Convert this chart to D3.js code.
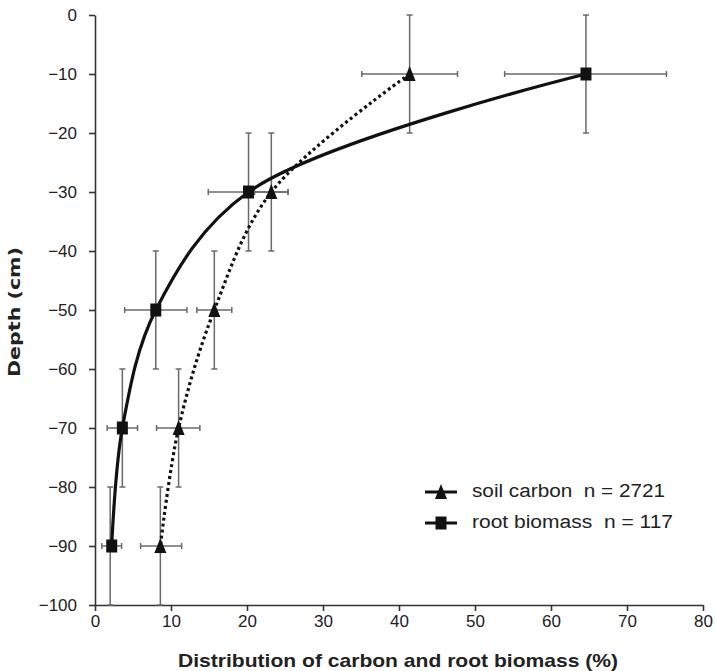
<!DOCTYPE html>
<html><head><meta charset="utf-8">
<script src="https://cdn.jsdelivr.net/npm/d3@7"></script>
<style>body{margin:0;background:#fff}svg{display:block}</style>
</head><body>
<script>
const depths = [-10, -30, -50, -70, -90];
const depthErrLow = [0, -20, -40, -60, -80];
const depthErrHigh = [-20, -40, -60, -80, -100];
const rootValues = [64.6, 20.2, 8.0, 3.6, 2.2];
const rootErrLeft = [53.9, 14.9, 3.9, 1.6, 0.9];
const rootErrRight = [75.2, 25.4, 12.1, 5.6, 3.5];
const rootVErrX = [64.6, 20.2, 8.0, 3.6, 2.0];
const carbonValues = [41.4, 23.2, 15.7, 11.0, 8.6];
const carbonErrLeft = [35.1, 21.0, 13.4, 8.1, 6.0];
const carbonErrRight = [47.7, 25.4, 18.0, 13.8, 11.4];
const xTicks = [0, 10, 20, 30, 40, 50, 60, 70, 80];
const yTicks = [0, -10, -20, -30, -40, -50, -60, -70, -80, -90, -100];
const legendLabels = ["soil carbon  n = 2721", "root biomass  n = 117"];

const W = 715, H = 671;
const svg = d3.select("body").append("svg").attr("width", W).attr("height", H);
const x = d3.scaleLinear().domain([0, 80]).range([95, 703]);
const y = d3.scaleLinear().domain([-100, 0]).range([605, 15]);
const FONT = "'Liberation Sans', Arial, sans-serif";
const AX = "#333";

// axes
const xAxis = svg.append("g").attr("transform", `translate(0,${y(-100)})`)
  .call(d3.axisBottom(x).tickValues(xTicks).tickSize(6).tickPadding(4).tickSizeOuter(0));
const yAxis = svg.append("g").attr("transform", `translate(${x(0)},0)`)
  .call(d3.axisLeft(y).tickValues(yTicks).tickSize(6).tickPadding(12).tickSizeOuter(0)
    .tickFormat(d => d < 0 ? "\u2212" + Math.abs(d) : String(d)));
[xAxis, yAxis].forEach(g => {
  g.select(".domain").attr("stroke", AX).attr("stroke-width", 1.6);
  g.selectAll(".tick line").attr("stroke", AX).attr("stroke-width", 1.6);
  g.selectAll(".tick text").attr("fill", "#222").style("font-family", FONT).style("font-size", "17px");
});

// error bars
const eb = svg.append("g").attr("stroke", "#6a6a6a").attr("stroke-width", 1.5).attr("fill", "none");
const cap = 3;
function errBars(vals, left, right, vx) {
  vals.forEach((v, i) => {
    const cy = y(depths[i]);
    eb.append("line").attr("x1", x(left[i])).attr("x2", x(right[i])).attr("y1", cy).attr("y2", cy);
    eb.append("line").attr("x1", x(left[i])).attr("x2", x(left[i])).attr("y1", cy - cap).attr("y2", cy + cap);
    eb.append("line").attr("x1", x(right[i])).attr("x2", x(right[i])).attr("y1", cy - cap).attr("y2", cy + cap);
    const cx = x(vx[i]);
    eb.append("line").attr("x1", cx).attr("x2", cx).attr("y1", y(depthErrLow[i])).attr("y2", y(depthErrHigh[i]));
    eb.append("line").attr("x1", cx - cap).attr("x2", cx + cap).attr("y1", y(depthErrLow[i])).attr("y2", y(depthErrLow[i]));
    eb.append("line").attr("x1", cx - cap).attr("x2", cx + cap).attr("y1", y(depthErrHigh[i])).attr("y2", y(depthErrHigh[i]));
  });
}
errBars(carbonValues, carbonErrLeft, carbonErrRight, carbonValues);
errBars(rootValues, rootErrLeft, rootErrRight, rootVErrX);

// curves
const line = d3.line().x(d => x(d[0])).y(d => y(d[1])).curve(d3.curveCatmullRom.alpha(0.5));
const rootPts = rootValues.map((v, i) => [v, depths[i]]);
const carbonPts = carbonValues.map((v, i) => [v, depths[i]]);
svg.append("path").attr("d", line(carbonPts)).attr("fill", "none").attr("stroke", "#111")
  .attr("stroke-width", 3.2).attr("stroke-dasharray", "3,3");
svg.append("path").attr("d", line(rootPts)).attr("fill", "none").attr("stroke", "#111")
  .attr("stroke-width", 3.2);

// markers
const tri = (cx, cy) => `M${cx},${cy - 8}L${cx + 6},${cy + 7}L${cx - 6},${cy + 7}Z`;
svg.append("g").selectAll("path").data(carbonPts).join("path")
  .attr("d", d => tri(x(d[0]), y(d[1]))).attr("fill", "#111");
svg.append("g").selectAll("rect").data(rootPts).join("rect")
  .attr("x", d => x(d[0]) - 5.5).attr("y", d => y(d[1]) - 6.5).attr("width", 11).attr("height", 13).attr("fill", "#111");

// legend
const lg = svg.append("g");
const rows = [492, 523];
const widths = [193, 201];
legendLabels.forEach((t, i) => {
  const cy = rows[i];
  lg.append("line").attr("x1", 425).attr("x2", 457).attr("y1", cy).attr("y2", cy).attr("stroke", "#111").attr("stroke-width", 3);
  if (i === 0) lg.append("path").attr("d", tri(441, cy)).attr("fill", "#111");
  else lg.append("rect").attr("x", 441 - 5.5).attr("y", cy - 6.5).attr("width", 11).attr("height", 13).attr("fill", "#111");
  lg.append("text").attr("x", 472).attr("y", cy + 5).attr("xml:space", "preserve").style("white-space", "pre")
    .attr("textLength", widths[i]).attr("lengthAdjust", "spacingAndGlyphs")
    .style("font-family", FONT).style("font-size", "18px").attr("fill", "#222").text(t);
});

// titles
svg.append("text").attr("x", 398).attr("y", 667).attr("text-anchor", "middle")
  .attr("textLength", 440).attr("lengthAdjust", "spacingAndGlyphs")
  .style("font-family", FONT).style("font-weight", "bold").style("font-size", "19px").attr("fill", "#222")
  .text("Distribution of carbon and root biomass (%)");
svg.append("text").attr("transform", "translate(20,312) rotate(-90)").attr("text-anchor", "middle")
  .attr("textLength", 130).attr("lengthAdjust", "spacingAndGlyphs")
  .style("font-family", "'DejaVu Sans', sans-serif").style("font-weight", "bold").style("font-size", "15px").attr("fill", "#222")
  .text("Depth (cm)");
</script>
</body></html>
